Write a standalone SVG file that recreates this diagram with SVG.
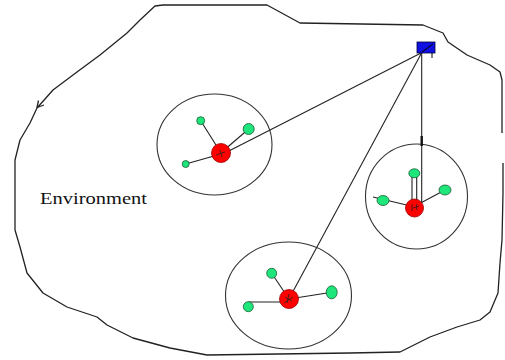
<svg xmlns="http://www.w3.org/2000/svg" width="505" height="360" viewBox="0 0 505 360">
<style>
.edge{fill:none;stroke:#222;stroke-width:1.3;stroke-linejoin:round}
.circ{fill:none;stroke:#333;stroke-width:1.1}
.conn{fill:none;stroke:#222;stroke-width:1.1}
.red{fill:#ff0000;stroke:#990000;stroke-width:0.8}
.grn{fill:#1ee67a;stroke:#1a5a35;stroke-width:0.8}
.mark{fill:none;stroke:#222;stroke-width:0.8}
.lbl{font-family:"Liberation Serif","Times New Roman",serif;font-size:17px;fill:#111}
</style>
<rect width="505" height="360" fill="#fff"/>
<g id="environment">
<polyline class="edge" points="37,108 53,90 77,72 100,55 127,33 140,20 155,6 163,5 267,5 300,23 423,25 443,33 448,42 467,55 490,65 500,72 502,80 502,133"/>
<polyline class="edge" points="503,163 503,193 502,240 500,263 498,293 490,312 480,320 457,327 430,337 400,352 350,353 207,355 170,348 133,338 107,325 97,317 67,307 43,293 27,273 20,247 15,230 15,160 20,140 30,123 37,108"/>
<path class="edge" d="M38.5,100.5 L37,107.5 L44,105"/>
<text class="lbl" x="40" y="204" textLength="107" lengthAdjust="spacingAndGlyphs">Environment</text>
</g>
<g id="clusters">
<ellipse class="circ" cx="214.5" cy="144.5" rx="57.5" ry="50.5"/>
<ellipse class="circ" cx="416.5" cy="196.5" rx="51" ry="52.5"/>
<ellipse class="circ" cx="288.5" cy="295.5" rx="63" ry="53.5"/>
</g>
<g id="connectors">
<line class="conn" x1="421" y1="53" x2="221" y2="155"/>
<line class="conn" x1="421" y1="54" x2="290" y2="297"/>
<line class="conn" x1="421.7" y1="53" x2="421.7" y2="203"/>
<line x1="421.7" y1="136" x2="421.7" y2="146" stroke="#111" stroke-width="2.4"/>
<line class="conn" x1="221" y1="153" x2="200.7" y2="120.7"/>
<line class="conn" x1="223" y1="151" x2="248.7" y2="129"/>
<line class="conn" x1="221" y1="154" x2="185.7" y2="164"/>
<line class="conn" x1="412" y1="173" x2="412" y2="204"/>
<line class="conn" x1="416.7" y1="173" x2="416.7" y2="204"/>
<line class="conn" x1="415" y1="206" x2="445" y2="190"/>
<line class="conn" x1="415" y1="207" x2="373" y2="197"/>
<line class="conn" x1="289" y1="299" x2="271.7" y2="273.3"/>
<line class="conn" x1="289" y1="299" x2="331.7" y2="292.3"/>
<line class="conn" x1="287" y1="302" x2="248.3" y2="302"/>
</g>
<g id="base-station">
<rect x="417" y="42" width="18" height="11" fill="#1010e0" stroke="#000040" stroke-width="0.8"/>
<path d="M422,52 L433,44 M432,53 L432,58" fill="none" stroke="#000" stroke-width="1"/>
</g>
<g id="head-1">
<circle class="red" cx="221" cy="153" r="9.5"/>
<path class="mark" d="M216,155 L225,152 M220,150 L222,157"/>
</g>
<g id="head-2">
<circle class="red" cx="414.5" cy="208" r="9"/>
<path class="mark" d="M412,204 L412,211 M416.7,204 L416.7,210 M413,208 L419,206"/>
</g>
<g id="head-3">
<circle class="red" cx="289" cy="299" r="9.5"/>
<path class="mark" d="M285,297 L292,301 M289,294 L287,303 M284,303 L293,297"/>
</g>
<g id="sensor-1a"><circle class="grn" cx="200.7" cy="120.7" r="4"/></g>
<g id="sensor-1b"><circle class="grn" cx="248.7" cy="129" r="5.5"/></g>
<g id="sensor-1c"><circle class="grn" cx="185.7" cy="164" r="3.5"/></g>
<g id="sensor-2a"><ellipse class="grn" cx="414.3" cy="173.3" rx="5.5" ry="4.5"/></g>
<g id="sensor-2b"><ellipse class="grn" cx="445" cy="190" rx="6" ry="5"/></g>
<g id="sensor-2c"><ellipse class="grn" cx="383" cy="200.5" rx="6" ry="5"/></g>
<g id="sensor-3a"><circle class="grn" cx="271.7" cy="273.3" r="5"/></g>
<g id="sensor-3b"><ellipse class="grn" cx="331.7" cy="292.3" rx="5.5" ry="6.5"/></g>
<g id="sensor-3c"><circle class="grn" cx="248.3" cy="306.7" r="5"/></g>
</svg>
